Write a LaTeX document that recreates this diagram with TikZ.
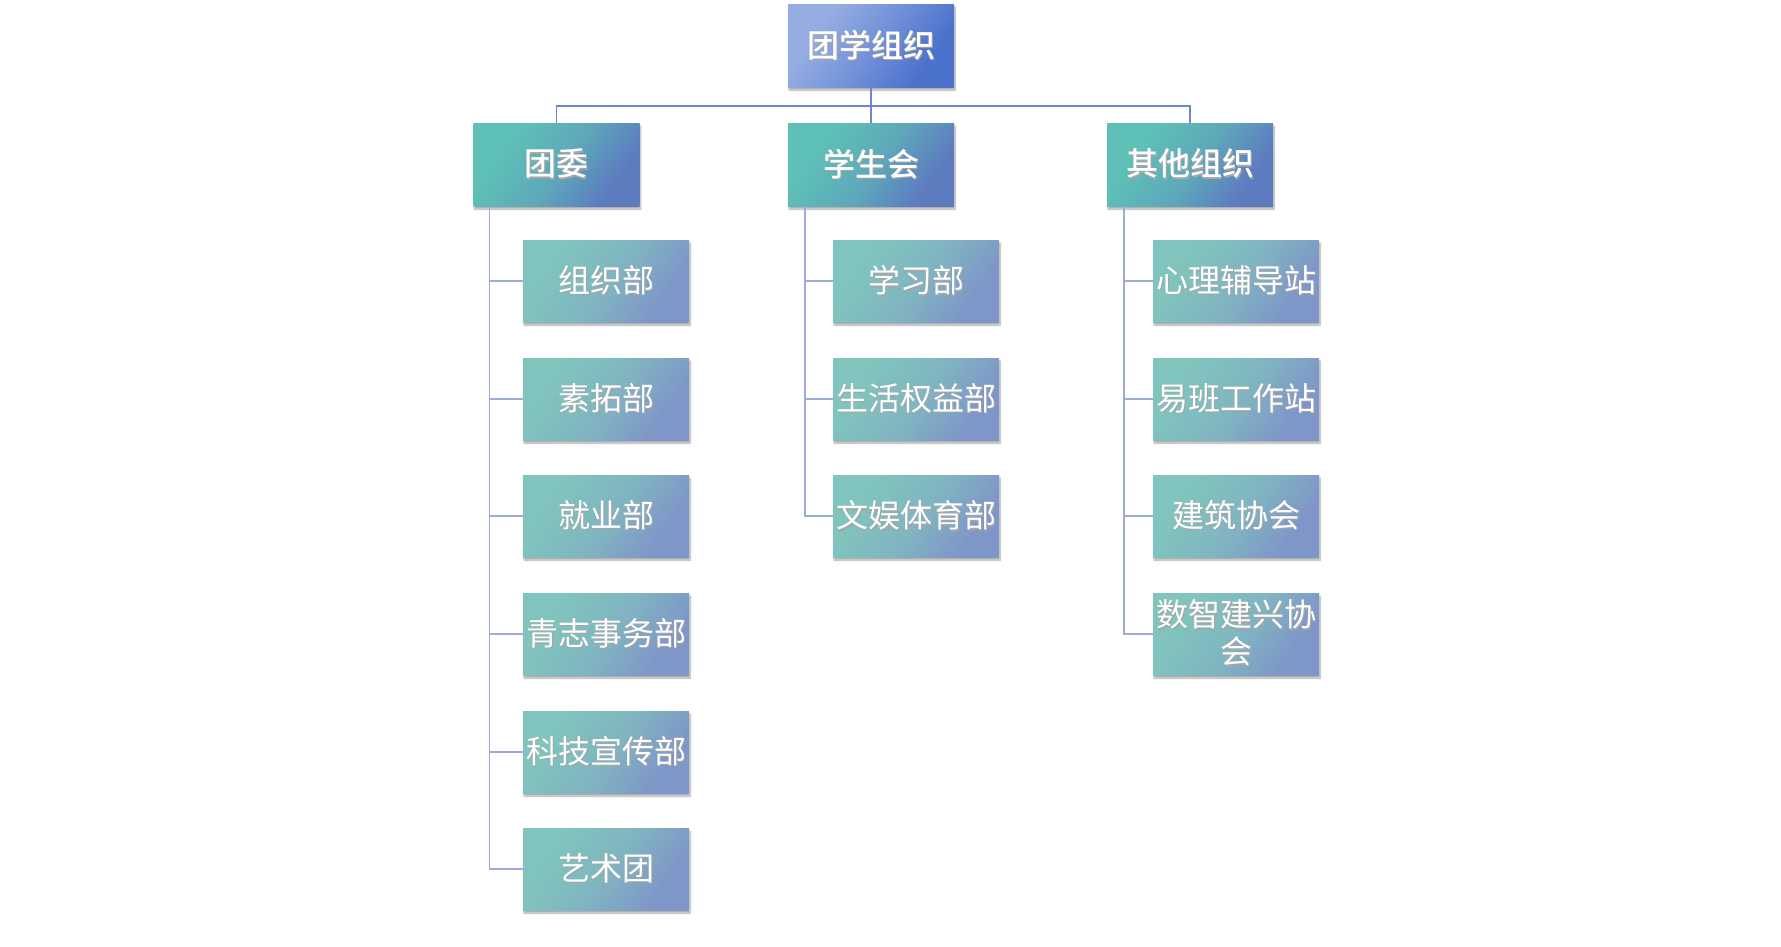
\documentclass[tikz,border=0pt]{standalone}
\usepackage{fontspec}
\newfontfamily\cjk{Noto Sans CJK SC}[BoldFont={Noto Sans CJK SC Medium}]
\usetikzlibrary{shadows.blur}
\definecolor{topA}{HTML}{95ADE3}
\definecolor{topB}{HTML}{4A71CB}
\definecolor{midA}{HTML}{5EC0B6}
\definecolor{midB}{HTML}{5D7CC0}
\definecolor{lowA}{HTML}{80C4BD}
\definecolor{lowB}{HTML}{7F96C8}
\definecolor{lineA}{HTML}{6C86CF}
\definecolor{lineB}{HTML}{9CAADC}
\pgfdeclarehorizontalshading{topsh}{100bp}{color(0bp)=(topA); color(30bp)=(topA); color(50bp)=(topA!55!topB); color(72bp)=(topB); color(100bp)=(topB)}
\pgfdeclarehorizontalshading{midsh}{100bp}{color(0bp)=(midA); color(30bp)=(midA); color(52bp)=(midA!65!midB); color(72bp)=(midB); color(100bp)=(midB)}
\pgfdeclarehorizontalshading{lowsh}{100bp}{color(0bp)=(lowA); color(30bp)=(lowA); color(52bp)=(lowA!65!lowB); color(72bp)=(lowB); color(100bp)=(lowB)}
\newcommand\shtext[1]{\makebox[0pt][l]{\raisebox{-1.5pt}{\hspace{1.2pt}\color{black!35}#1}}#1}
\tikzset{
  boxbase/.style={minimum width=166pt, inner sep=0pt, text=white, align=center,
    font=\cjk\fontsize{32pt}{37pt}\selectfont,
    blur shadow={shadow xshift=1pt, shadow yshift=-3pt, shadow blur steps=8, shadow blur extra rounding=0pt, shadow opacity=35}},
  topbox/.style={boxbase, minimum height=83pt, shading=topsh, shading angle=-35, font=\cjk\bfseries\fontsize{32pt}{37pt}\selectfont},
  midbox/.style={boxbase, minimum height=83pt, shading=midsh, shading angle=-35, font=\cjk\bfseries\fontsize{32pt}{37pt}\selectfont},
  lowbox/.style={boxbase, minimum height=82pt, shading=lowsh, shading angle=-35},
  trunk/.style={draw=lineA, line width=1.6pt},
  branch/.style={draw=lineB, line width=1.6pt},
}
\begin{document}
\begin{tikzpicture}[x=1pt,y=-1pt]
\useasboundingbox (0,0) rectangle (1781,946);
\node[topbox] (root) at (871,45.5) {\shtext{团学组织}};
\node[midbox] (tw) at (556.5,164.5) {\shtext{团委}};
\node[midbox] (xs) at (871,164.5) {\shtext{学生会}};
\node[midbox] (qt) at (1190,164.5) {\shtext{其他组织}};
\coordinate (hub) at (871,106);
\draw[trunk] (root.south) -- (hub);
\draw[trunk] (tw.north) |- (hub) -| (qt.north);
\draw[trunk] (hub) -- (xs.north);
% tuanwei children
\node[lowbox] (t1) at (606,281) {\shtext{组织部}};
\node[lowbox] (t2) at (606,399) {\shtext{素拓部}};
\node[lowbox] (t3) at (606,516) {\shtext{就业部}};
\node[lowbox] (t4) at (606,634) {\shtext{青志事务部}};
\node[lowbox] (t5) at (606,752) {\shtext{科技宣传部}};
\node[lowbox] (t6) at (606,869) {\shtext{艺术团}};
% xueshenghui children
\node[lowbox] (x1) at (916,281) {\shtext{学习部}};
\node[lowbox] (x2) at (916,399) {\shtext{生活权益部}};
\node[lowbox] (x3) at (916,516) {\shtext{文娱体育部}};
% other children
\node[lowbox] (q1) at (1236,281) {\shtext{心理辅导站}};
\node[lowbox] (q2) at (1236,399) {\shtext{易班工作站}};
\node[lowbox] (q3) at (1236,516) {\shtext{建筑协会}};
\node[lowbox, font=\cjk\fontsize{32pt}{37pt}\selectfont] (q4) at (1236,634) {\shtext{数智建兴协}\\\shtext{会}};
% branches
\coordinate (tb) at ([xshift=16pt]tw.south west);
\coordinate (xb) at ([xshift=17pt]xs.south west);
\coordinate (qb) at ([xshift=17pt]qt.south west);
\foreach \c in {t1,t2,t3,t4,t5,t6} \draw[branch] (tb) |- (\c.west);
\foreach \c in {x1,x2,x3} \draw[branch] (xb) |- (\c.west);
\foreach \c in {q1,q2,q3,q4} \draw[branch] (qb) |- (\c.west);
\end{tikzpicture}
\end{document}
